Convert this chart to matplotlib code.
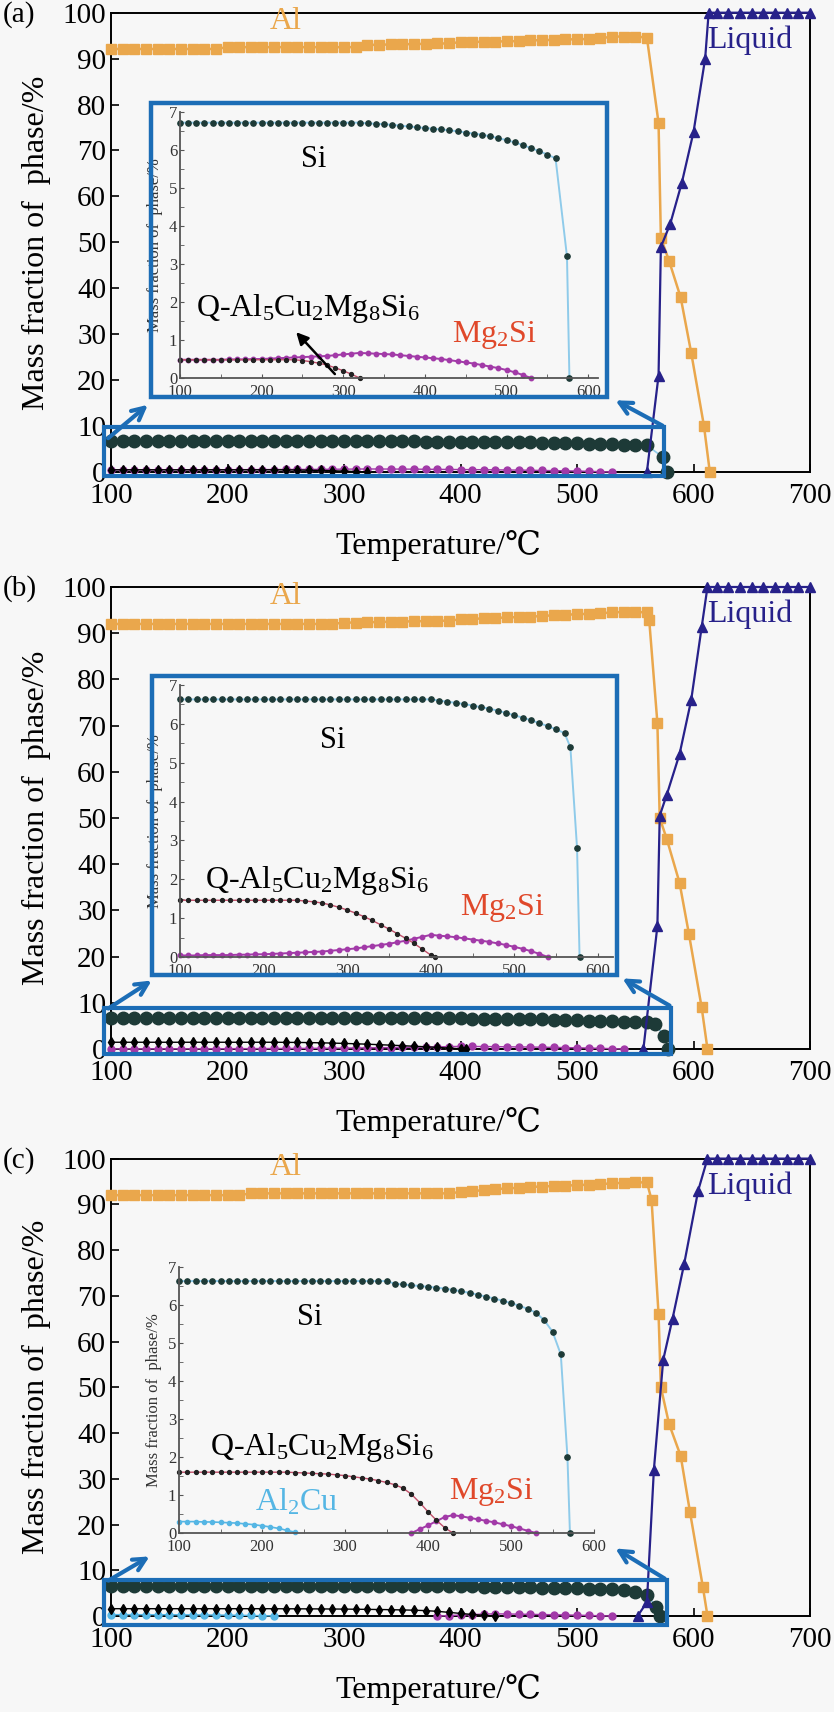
import matplotlib
matplotlib.use('Agg')
import matplotlib.pyplot as plt
from matplotlib.patches import Rectangle, FancyArrowPatch

plt.rcParams['font.family'] = ['Liberation Serif', 'DejaVu Serif']
plt.rcParams['mathtext.default'] = 'regular'

# common temperature grid of the calculated points (deg C)
t_grid = list(range(100, 561, 10))
t_flat_liq = list(range(620, 701, 10))

# ---------------- (a)
al_a = [92.1] * 10 + [92.5] * 12 + [93.0, 93.0, 93.1, 93.1, 93.2, 93.2, 93.3, 93.3] \
    + [93.6, 93.6, 93.7, 93.7, 93.8, 93.8] + [94.0, 94.0, 94.1, 94.2, 94.2, 94.3, 94.4] \
    + [94.8, 94.8, 94.8, 94.6]
al_a_tail_t = [570, 572, 579, 589, 598, 609, 614]
al_a_tail = [76, 51, 46, 38, 26, 10, 0]
liq_a_t = [560, 570, 572, 580, 590, 600, 610, 613] + t_flat_liq
liq_a = [0, 21, 49, 54, 63, 74, 90, 100] + [100] * 9
si_a = [6.72] * 23 + [6.70, 6.69, 6.68, 6.66, 6.64, 6.62, 6.60, 6.58, 6.56, 6.54, 6.52, 6.49,
                      6.46, 6.43, 6.40, 6.36, 6.31, 6.26, 6.20, 6.13, 6.05, 5.97, 5.88, 5.78]
si_a_tail_t = [574, 577]
si_a_tail = [3.2, 0.0]
q_a_t = list(range(100, 321, 10))
q_a = [0.48] * 15 + [0.46, 0.43, 0.39, 0.34, 0.27, 0.19, 0.10, 0.0]
mg_a_t = list(range(100, 531, 10))
mg_a = [0.48, 0.48, 0.48, 0.48, 0.48, 0.48, 0.49, 0.49, 0.49, 0.50, 0.50,
        0.51, 0.52, 0.53, 0.54, 0.55, 0.56, 0.57, 0.58, 0.60, 0.62, 0.64, 0.66,
        0.65, 0.64, 0.63, 0.62, 0.60, 0.58, 0.56, 0.54, 0.52, 0.50, 0.47, 0.44,
        0.41, 0.38, 0.34, 0.30, 0.26, 0.21, 0.15, 0.08, 0.0]

# ---------------- (b)
al_b = [92.0] * 20 + [92.3, 92.3, 92.4, 92.4, 92.5, 92.5, 92.6, 92.6, 92.7, 92.7] \
    + [93.0, 93.1, 93.2, 93.3, 93.4, 93.5, 93.6, 93.7] \
    + [93.9, 94.0, 94.1, 94.2, 94.3, 94.5, 94.6, 94.6, 94.5]
al_b_tail_t = [562, 569, 571, 577, 588, 596, 607, 612]
al_b_tail = [92.8, 70.6, 50, 45.5, 36, 25, 9, 0]
liq_b_t = [557, 569, 571, 577, 588, 598, 607, 612] + t_flat_liq
liq_b = [0, 26.6, 50.5, 55, 63.8, 75.5, 91.3, 100] + [100] * 9
si_b = [6.63] * 31 + [6.60, 6.57, 6.54, 6.51, 6.47, 6.43, 6.39, 6.34, 6.28, 6.22, 6.16,
                      6.09, 6.02, 5.94, 5.86, 5.76]
si_b_tail_t = [567, 575, 578]
si_b_tail = [5.4, 2.8, 0.0]
q_b_t = list(range(100, 401, 10)) + [405]
q_b = [1.46] * 15 + [1.44, 1.42, 1.39, 1.34, 1.28, 1.21, 1.13, 1.04, 0.94, 0.83, 0.72,
                     0.60, 0.48, 0.35, 0.20, 0.05, 0.0]
mg_b_t = list(range(100, 541, 10))
mg_b = [0.04, 0.04, 0.04, 0.05, 0.05, 0.05, 0.05, 0.06, 0.06, 0.07, 0.07,
        0.08, 0.09, 0.10, 0.11, 0.12, 0.13, 0.14, 0.16, 0.18, 0.20,
        0.22, 0.25, 0.28, 0.31, 0.34, 0.38, 0.42, 0.47, 0.52, 0.57,
        0.55, 0.53, 0.51, 0.48, 0.45, 0.42, 0.39, 0.35, 0.31, 0.26, 0.21, 0.15, 0.08, 0.0]

# ---------------- (c)
al_c = [92.0] * 12 + [92.4] * 18 + [92.7, 92.9, 93.1, 93.3, 93.5, 93.6] \
    + [93.8, 93.9, 94.0, 94.1, 94.2, 94.3, 94.4, 94.6, 94.7, 94.8, 94.8]
al_c_tail_t = [564, 570, 572, 579, 589, 597, 608, 612]
al_c_tail = [91, 66, 50, 42, 35, 22.7, 6.4, 0]
liq_c_t = [552, 560, 566, 574, 582, 592, 604, 612] + t_flat_liq
liq_c = [0, 3, 32, 56, 65, 77, 93, 100] + [100] * 9
si_c = [6.63] * 26 + [6.56, 6.54, 6.52, 6.50, 6.48, 6.46, 6.43, 6.40, 6.36, 6.32, 6.27,
                      6.22, 6.17, 6.11, 6.05, 5.98, 5.90, 5.80, 5.60, 5.30, 4.70]
si_c_tail_t = [568, 571]
si_c_tail = [2.0, 0.0]
q_c_t = list(range(100, 431, 10))
q_c = [1.60] * 14 + [1.59, 1.58, 1.57, 1.56, 1.55, 1.53, 1.51, 1.48, 1.45, 1.42,
                     1.38, 1.33, 1.27, 1.18, 1.02, 0.80, 0.56, 0.34, 0.14, 0.0]
mg_c_t = list(range(380, 531, 10))
mg_c = [0.0, 0.10, 0.20, 0.31, 0.42, 0.47, 0.44, 0.40, 0.36, 0.32, 0.28, 0.23, 0.18, 0.12, 0.06, 0.0]
cu_c_t = list(range(100, 241, 10))
cu_c = [0.30, 0.30, 0.30, 0.29, 0.29, 0.28, 0.27, 0.26, 0.24, 0.22, 0.19, 0.16, 0.12, 0.07, 0.02]

c_al = '#EAA74C'
c_liq = '#27218A'
c_si = '#1D3A37'
c_siline = '#8FCBEA'
c_mg = '#A23AA8'
c_cu = '#55B6E4'
c_box = '#1C6DB6'
c_red = '#E0482A'
bg = '#F7F7F7'

W, H = 834, 1712
fig = plt.figure(figsize=(W / 100, H / 100), dpi=100)
fig.patch.set_facecolor(bg)


def fx(x):
    return x / W


def fy(y):
    return 1 - y / H


panels = [
    dict(lab='(a)', top=12.7, bot=472,
         al=(t_grid + al_a_tail_t, al_a + al_a_tail), liq=(liq_a_t, liq_a),
         si=(t_grid + si_a_tail_t, si_a + si_a_tail), q=(q_a_t, q_a), mg=(mg_a_t, mg_a), cu=None,
         inset=(180, 112, 598, 378), xmax=612, frame=(151, 103, 607, 397),
         rect=(94, -0.9, 575, 9.8),
         arrows=[((106, 440), (150, 403)), ((665, 427), (613, 399))],
         si_lab=(264, 5.76), q_lab=(256, 1.82), mg_lab=(485, 1.13), cu_lab=None,
         q_arrow=((292, 0.05), (240, 1.26))),
    dict(lab='(b)', top=587, bot=1049,
         al=(t_grid + al_b_tail_t, al_b + al_b_tail), liq=(liq_b_t, liq_b),
         si=(t_grid + si_b_tail_t, si_b + si_b_tail), q=(q_b_t, q_b), mg=(mg_b_t, mg_b), cu=None,
         inset=(180, 685, 613, 957), xmax=618, frame=(152, 676, 617, 975),
         rect=(94, -1.0, 581, 8.9),
         arrows=[((106, 1010), (154, 979)), ((672, 1007), (620, 977))],
         si_lab=(283, 5.58), q_lab=(264, 1.98), mg_lab=(486, 1.26), cu_lab=None,
         q_arrow=None),
    dict(lab='(c)', top=1158.6, bot=1616,
         al=(t_grid + al_c_tail_t, al_c + al_c_tail), liq=(liq_c_t, liq_c),
         si=(t_grid + si_c_tail_t, si_c + si_c_tail), q=(q_c_t, q_c), mg=(mg_c_t, mg_c),
         cu=(cu_c_t, cu_c),
         inset=(179, 1267, 594, 1533), xmax=600, frame=None,
         rect=(94, -2.0, 577, 7.9),
         arrows=[((106, 1582), (152, 1555)), ((667, 1580), (613, 1547))],
         si_lab=(258, 5.68), q_lab=(272, 2.26), mg_lab=(476, 1.08), cu_lab=(241, 0.82),
         q_arrow=None),
]

for p in panels:
    hpx = p['bot'] - p['top']
    ax = fig.add_axes([fx(111), fy(p['bot']), (810 - 111) / W, hpx / H])
    ax.set_facecolor(bg)
    ax.set_xlim(100, 700)
    ax.set_ylim(0, 100)
    ax.set_xticks(range(100, 701, 100))
    ax.set_yticks(range(0, 101, 10))
    ax.tick_params(direction='in', length=6, width=1.2, labelsize=21)
    ax.tick_params(axis='x', pad=8)
    for s in ax.spines.values():
        s.set_linewidth(1.4)
    ax.set_xlabel('Temperature/℃', fontsize=23)
    ax.xaxis.set_label_coords(0.468, -58 / hpx)
    ax.set_ylabel('Mass fraction of  phase/%', fontsize=23)
    ax.yaxis.set_label_coords(-60 / 699, 0.5)

    if p['cu'] is not None:
        ax.plot(*p['cu'], color=c_cu, marker='o', ms=5, lw=1, clip_on=False, zorder=3)
    ax.plot(*p['mg'], color=c_mg, marker='o', ms=5, lw=1, clip_on=False, zorder=3)
    ax.plot(*p['q'], color='black', marker='d', ms=5, lw=1, clip_on=False, zorder=3)
    ax.plot(*p['si'], color=c_siline, marker='o', mfc=c_si, mec=c_si, ms=9, lw=1.2,
            clip_on=False, zorder=4)
    ax.plot(*p['al'], color=c_al, marker='s', ms=7, lw=1.8, clip_on=False, zorder=5)
    ax.plot(*p['liq'], color=c_liq, marker='^', ms=7, lw=1.6, clip_on=False, zorder=6)

    ax.text(250, 98, 'Al', color=c_al, fontsize=23, ha='center', va='center')
    ax.text(612, 94, 'Liquid', color=c_liq, fontsize=23, ha='left', va='center')
    fig.text(fx(3), fy(p['top'] + 2), p['lab'], fontsize=21, va='center')

    # zoom box on main axes
    x0, y0, x1, y1 = p['rect']
    ax.add_patch(Rectangle((x0, y0), x1 - x0, y1 - y0, fill=False, ec=c_box, lw=3,
                           clip_on=False, zorder=7))
    for (xa, ya), (xb, yb) in p['arrows']:
        fig.add_artist(FancyArrowPatch((fx(xa), fy(ya)), (fx(xb), fy(yb)),
                                       transform=fig.transFigure, arrowstyle='->',
                                       mutation_scale=22, color=c_box, lw=3))
    if p['frame'] is not None:
        l, t, r, b = p['frame']
        fig.add_artist(Rectangle((fx(l), fy(b)), (r - l) / W, (b - t) / H, fill=False,
                                 ec=c_box, lw=3.2, transform=fig.transFigure))

    # inset
    l, t, r, b = p['inset']
    ins = fig.add_axes([fx(l), fy(b), (r - l) / W, (b - t) / H])
    ins.patch.set_alpha(0)
    ins.set_xlim(100, p['xmax'])
    ins.set_ylim(0, 7)
    ins.set_xticks(range(100, 601, 100))
    ins.set_xticks(range(150, 601, 100), minor=True)
    ins.set_yticks(range(0, 8))
    ins.set_yticks([k + 0.5 for k in range(7)], minor=True)
    for side in ('top', 'right'):
        ins.spines[side].set_visible(False)
    for side in ('left', 'bottom'):
        ins.spines[side].set_color('#555555')
        ins.spines[side].set_linewidth(1.3)
    ins.tick_params(which='both', direction='in', colors='#555555', labelcolor='#333333',
                    labelsize=12, length=3, pad=2)
    ins.tick_params(axis='x', pad=4)
    ins.set_ylabel('Mass fraction of  phase/%', fontsize=12, color='#333333')
    ins.yaxis.set_label_coords(-17 / (r - l), 0.5)

    if p['cu'] is not None:
        ins.plot(*p['cu'], color=c_cu, marker='o', ms=3, lw=1.2, clip_on=False)
    ins.plot(*p['mg'], color=c_mg, marker='o', ms=3.2, lw=1.4, clip_on=False)
    ins.plot(*p['q'], color='#C2506A', marker='o', mfc='#222222', mec='#222222', ms=2.8,
             lw=1, clip_on=False)
    ins.plot(*p['si'], color=c_siline, marker='o', mfc=c_si, mec=c_si, ms=3.8, lw=1.4,
             clip_on=False)

    ins.text(*p['si_lab'], 'Si', fontsize=22, ha='center', va='center')
    ins.text(*p['q_lab'], 'Q-Al$_5$Cu$_2$Mg$_8$Si$_6$', fontsize=23, ha='center', va='center')
    ins.text(*p['mg_lab'], 'Mg$_2$Si', fontsize=23, color=c_red, ha='center', va='center')
    if p['cu_lab'] is not None:
        ins.text(*p['cu_lab'], 'Al$_2$Cu', fontsize=23, color=c_cu, ha='center', va='center')
    if p['q_arrow'] is not None:
        tail, head = p['q_arrow']
        ins.annotate('', xy=head, xytext=tail,
                     arrowprops=dict(arrowstyle='-|>', color='black', lw=1.8, mutation_scale=18))

fig.savefig('out.png', dpi=100, facecolor=bg)
